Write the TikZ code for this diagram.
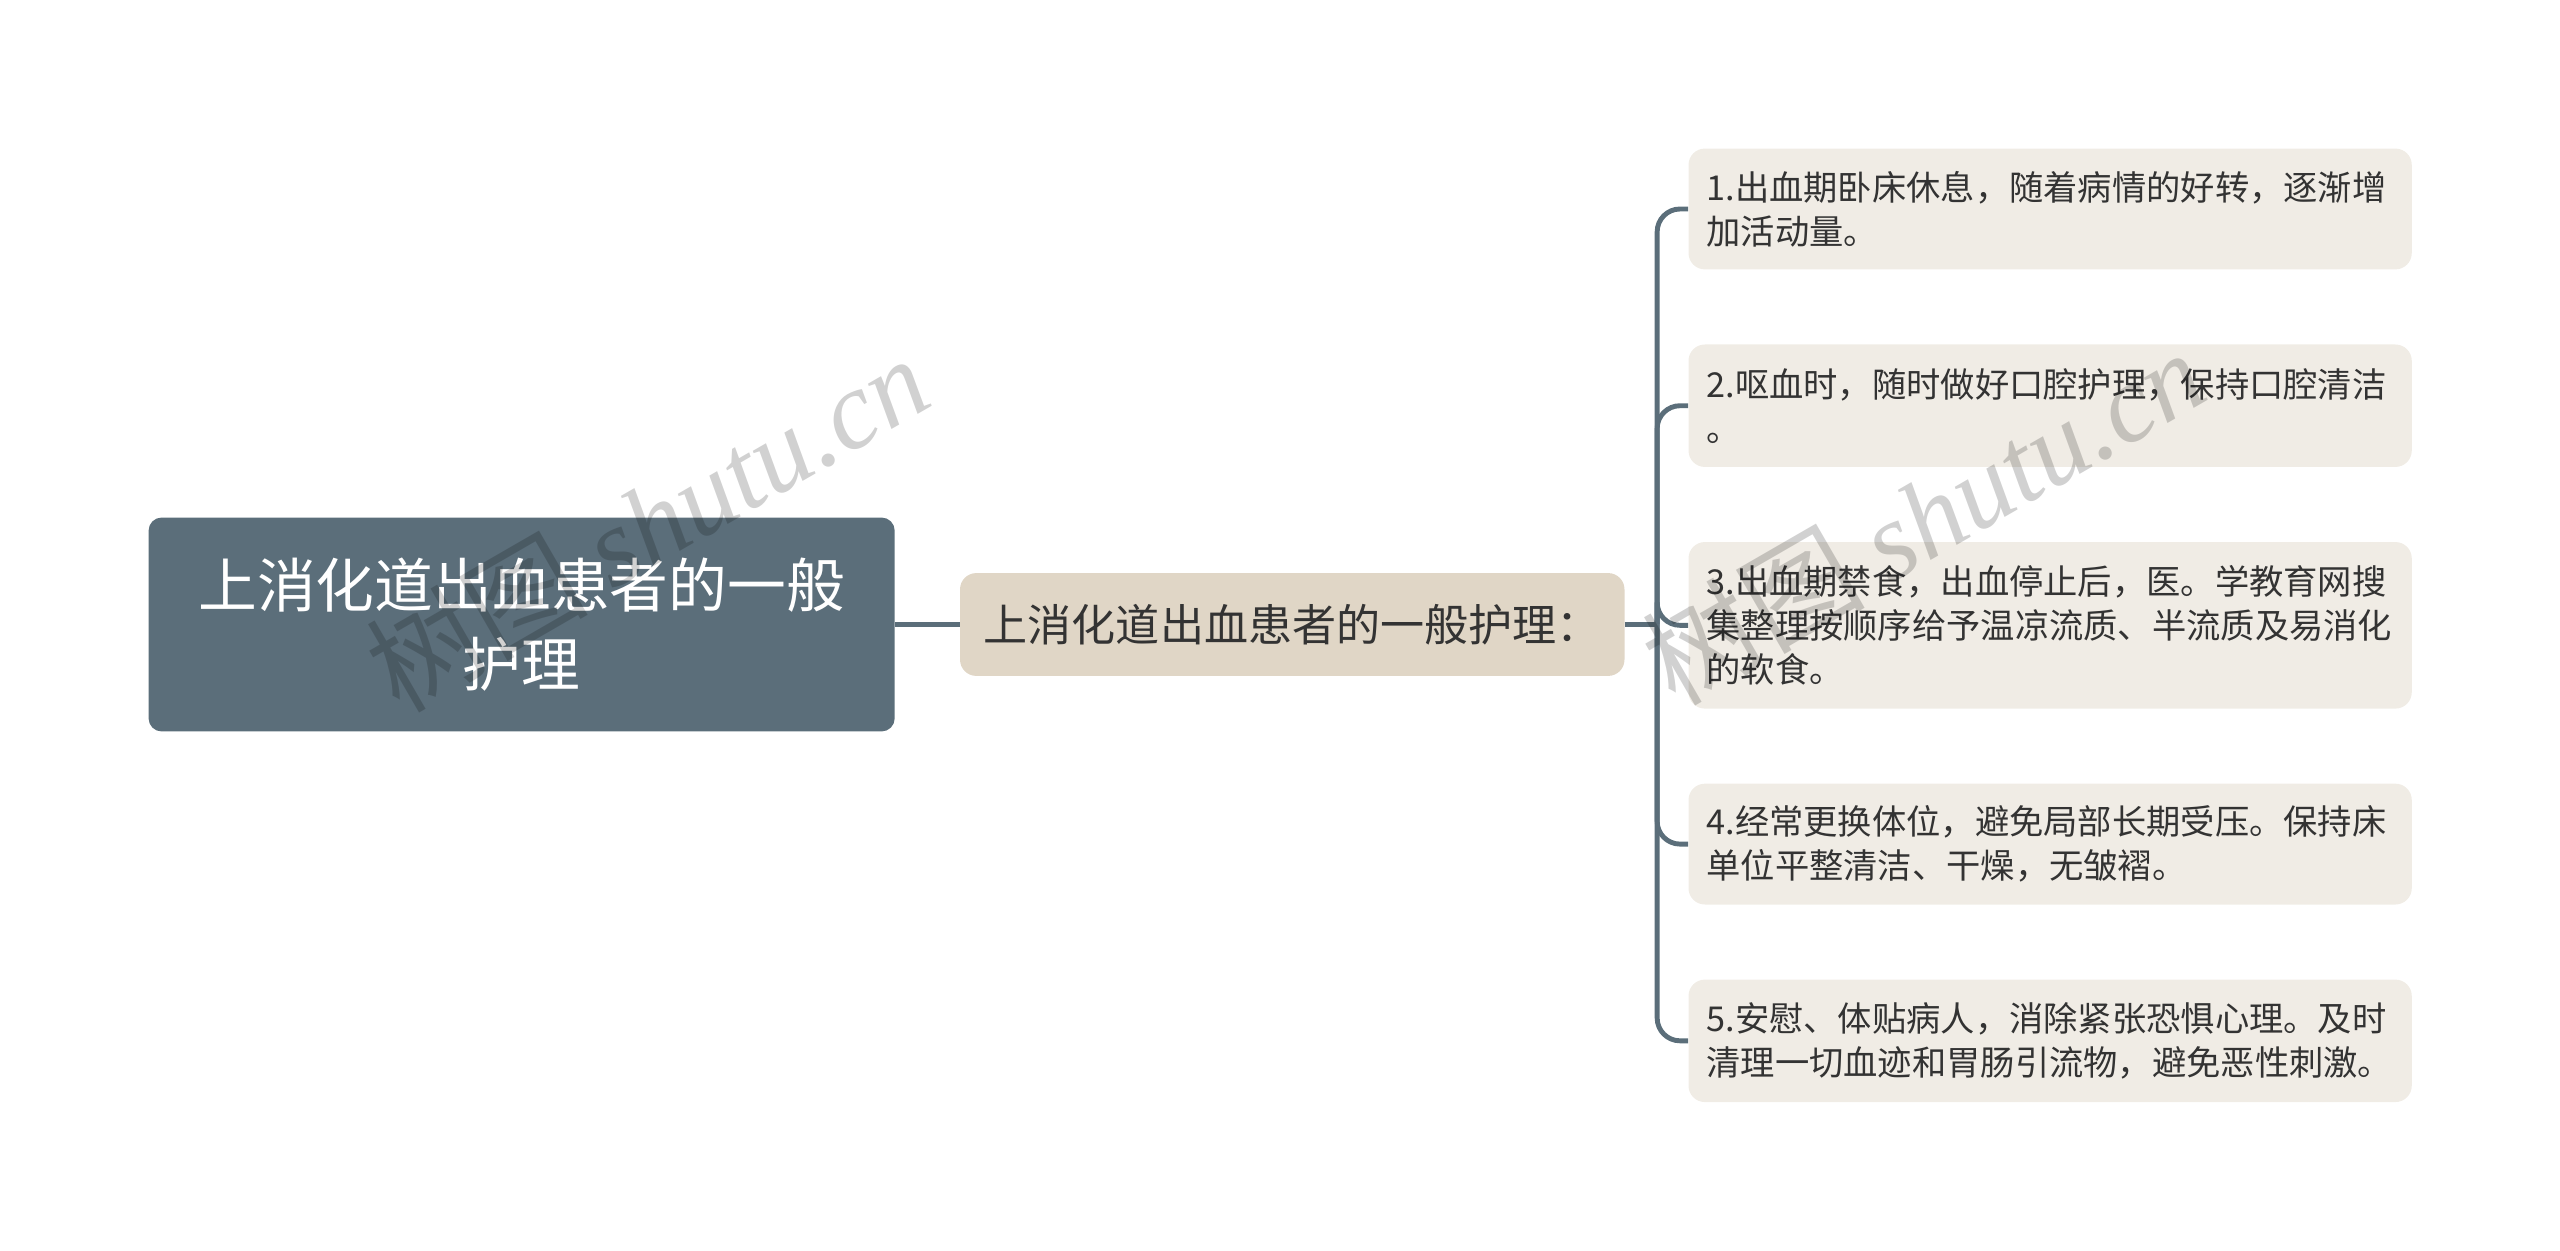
\documentclass[tikz,border=0pt]{standalone}
\usepackage{fontspec}
\setmainfont{Noto Sans CJK SC}
\newfontfamily\wmlatin{Liberation Serif}
\definecolor{rootfill}{HTML}{5B6E7A}
\definecolor{midfill}{HTML}{E0D6C6}
\definecolor{leaffill}{HTML}{F0ECE5}
\definecolor{txt}{HTML}{333333}
\tikzset{
  rootbox/.style={fill=rootfill, rounded corners=8pt, minimum width=457pt, minimum height=131pt, align=center, text=white, font=\fontsize{36}{48}\selectfont, inner sep=0pt},
  midbox/.style={fill=midfill, rounded corners=10pt, minimum width=407pt, minimum height=63pt, text=txt, font=\fontsize{27}{30}\selectfont, inner sep=0pt},
  leafbox/.style={fill=leaffill, rounded corners=10pt, text width=421pt, inner xsep=11pt, inner ysep=0pt, align=left, text=txt, font=\fontsize{21}{27}\selectfont, anchor=west},
  conn/.style={draw=rootfill, line width=3pt},
  wmark/.style={text=black, text opacity=0.18, rotate=30, font=\fontsize{68}{68}\selectfont}
}
\begin{document}
\begin{tikzpicture}[x=1pt,y=-1pt]
\useasboundingbox (0,0) rectangle (1568,766.2);
\node[rootbox] (root) at (319.5,382.5) {上消化道出血患者的一般\\护理};
\node[midbox] (mid) at (791.5,382.5) {上消化道出血患者的一般护理：};
\node[leafbox, minimum height=74pt] (c1) at (1034,128) {1.出血期卧床休息，随着病情的好转，逐渐增\\加活动量。};
\node[leafbox, minimum height=75pt] (c2) at (1034,248.5) {2.呕血时，随时做好口腔护理，保持口腔清洁\\。};
\node[leafbox, minimum height=102pt] (c3) at (1034,383) {3.出血期禁食，出血停止后，医。学教育网搜\\集整理按顺序给予温凉流质、半流质及易消化\\的软食。};
\node[leafbox, minimum height=74pt] (c4) at (1034,517) {4.经常更换体位，避免局部长期受压。保持床\\单位平整清洁、干燥，无皱褶。};
\node[leafbox, minimum height=75pt] (c5) at (1034,637.5) {5.安慰、体贴病人，消除紧张恐惧心理。及时\\清理一切血迹和胃肠引流物，避免恶性刺激。};
\coordinate (trunk) at (1015,382.5);
\draw[conn] (root.east) -- (mid.west);
\draw[conn] (mid.east) -- (trunk);
\foreach \c in {c1,c2,c3,c4,c5}
  \draw[conn, rounded corners=14pt] (trunk) |- (\c.west);
\node[wmark] (wm1) at (396,320) {树图 {\wmlatin\itshape shutu.cn}};
\node[wmark] (wm2) at (1178,316) {树图 {\wmlatin\itshape shutu.cn}};
\end{tikzpicture}
\end{document}
